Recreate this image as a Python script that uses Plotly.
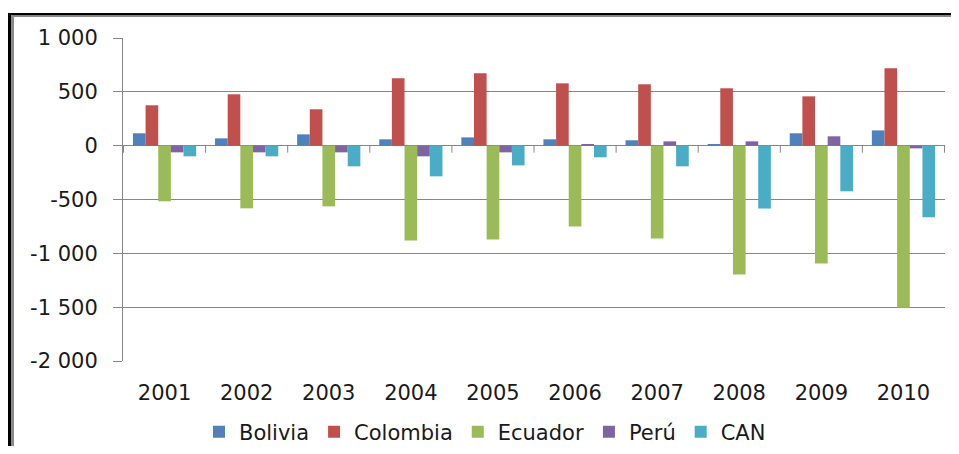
import plotly.graph_objects as go

years = ["2001", "2002", "2003", "2004", "2005", "2006", "2007", "2008", "2009", "2010"]
bolivia = [115, 68, 105, 59, 77, 59, 50, 12, 115, 142]
colombia = [375, 477, 338, 626, 672, 579, 570, 533, 458, 719]
ecuador = [-517, -582, -564, -880, -871, -750, -862, -1196, -1094, -1505]
peru = [-62, -62, -62, -99, -62, 12, 40, 40, 87, -25]
can = [-99, -99, -192, -285, -183, -108, -192, -584, -424, -666]

series_names = ["Bolivia", "Colombia", "Ecuador", "Perú", "CAN"]
series_values = [bolivia, colombia, ecuador, peru, can]
colors = ["#4F81BD", "#C0504D", "#9BBB59", "#8064A2", "#4BACC6"]

y_tickvals = [1000, 500, 0, -500, -1000, -1500, -2000]
y_ticktext = ["1 000", "500", "0", "-500", "-1 000", "-1 500", "-2 000"]

# the page body adds an 8px margin on every side, so the figure is laid out
# 8px up/left and kept small enough that the page does not scroll
OFF = 8
W, H = 959 - 2 * OFF, 454 - 2 * OFF
L, R, T, B = 123 - OFF, 945 - OFF, 38 - OFF, 361 - OFF
GRID = "#878787"
FONT = "DejaVu Sans"
FS = 21

fig = go.Figure()
for name, vals, col in zip(series_names, series_values, colors):
    fig.add_trace(go.Bar(x=years, y=vals, name=name, marker=dict(color=col, line=dict(width=0))))


def px_x(p):
    return (p - OFF - L) / (R - L)


def px_y(p):
    return (B - (p - OFF)) / (B - T)


X_END = W + OFF    # right edge of the figure in page pixels
Y_END = H + OFF    # bottom edge of the figure in page pixels

shapes = []
# category boundary tick marks on the zero line
for i in range(len(years) + 1):
    shapes.append(dict(type="line", xref="x", yref="y", x0=i - 0.5, x1=i - 0.5,
                       ysizemode="pixel", yanchor=0, y0=0, y1=-7,
                       line=dict(color=GRID, width=1)))
# outer frame (black + grey inner), left and top sides only
shapes.append(dict(type="rect", xref="paper", yref="paper", layer="above",
                   x0=px_x(8), x1=px_x(11), y0=px_y(Y_END), y1=px_y(13),
                   fillcolor="black", line=dict(width=0)))
shapes.append(dict(type="rect", xref="paper", yref="paper", layer="above",
                   x0=px_x(8), x1=px_x(X_END), y0=px_y(15.5), y1=px_y(13),
                   fillcolor="black", line=dict(width=0)))
shapes.append(dict(type="rect", xref="paper", yref="paper", layer="above",
                   x0=px_x(11), x1=px_x(14), y0=px_y(Y_END), y1=px_y(15.5),
                   fillcolor="#8a8a8a", line=dict(width=0)))
shapes.append(dict(type="rect", xref="paper", yref="paper", layer="above",
                   x0=px_x(11), x1=px_x(X_END), y0=px_y(17), y1=px_y(15.5),
                   fillcolor="#8a8a8a", line=dict(width=0)))

fig.update_layout(
    width=W, height=H,
    margin=dict(l=L, r=W - R, t=T, b=H - B, pad=0, autoexpand=False),
    paper_bgcolor="white", plot_bgcolor="white",
    barmode="group", bargap=0.23, bargroupgap=0,
    font=dict(family=FONT, size=FS, color="#1a1a1a"),
    showlegend=True,
    legend=dict(orientation="h", x=px_x(199), xanchor="left",
                y=px_y(432), yanchor="middle",
                font=dict(family=FONT, size=FS, color="#1a1a1a"),
                itemwidth=30, tracegroupgap=0, bgcolor="rgba(0,0,0,0)"),
    xaxis=dict(type="category", showgrid=False, showline=False, zeroline=False,
               ticks="", tickfont=dict(family=FONT, size=FS, color="#1a1a1a"),
               ticklabelstandoff=17, automargin=False),
    yaxis=dict(range=[-2000, 1000], tickvals=y_tickvals, ticktext=y_ticktext,
               showgrid=True, gridcolor=GRID, gridwidth=1,
               zeroline=True, zerolinecolor=GRID, zerolinewidth=1,
               showline=True, linecolor=GRID, linewidth=1,
               ticks="outside", ticklen=9, tickcolor=GRID, tickwidth=1,
               ticklabelstandoff=11, automargin=False,
               tickfont=dict(family=FONT, size=FS, color="#1a1a1a")),
    shapes=shapes,
)

fig.write_html("out.html")
